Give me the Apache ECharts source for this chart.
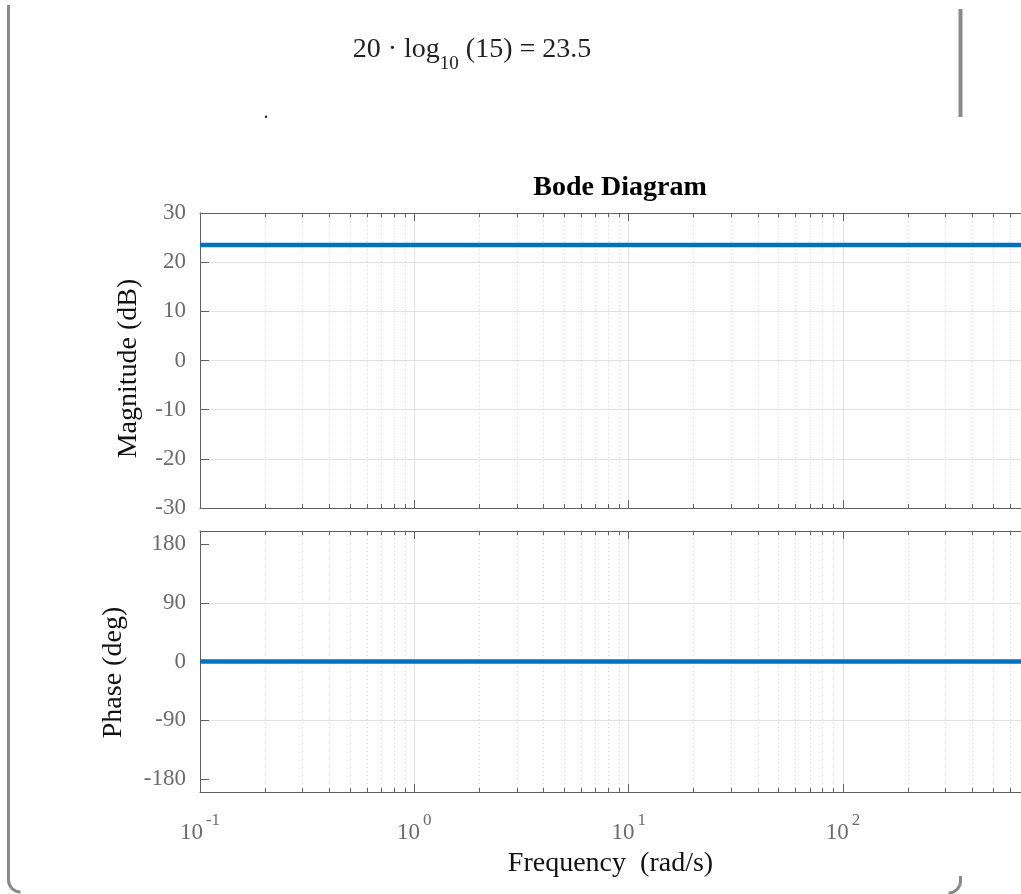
<!DOCTYPE html>
<html><head><meta charset="utf-8">
<script src="https://cdn.jsdelivr.net/npm/echarts@6/dist/echarts.min.js"></script>
<style>html,body{margin:0;padding:0;background:#fff;overflow:hidden}#c{width:1021px;height:894px}</style>
</head><body><div id="c"></div>
<script>
// ---- data ----
const freq = [0.1, 1, 10, 100, 677];
const magnitudeDb = [23.5, 23.5, 23.5, 23.5, 23.5];
const phaseDeg = [0, 0, 0, 0, 0];
const magTicks = [-30, -20, -10, 0, 10, 20, 30];
const phaseTicks = [-180, -90, 0, 90, 180];
const freqMin = 0.1, freqMax = 677;
const decades = [0.1, 1, 10, 100];
const titleText = 'Bode Diagram';
const xName = 'Frequency  (rad/s)';
const magName = 'Magnitude (dB)';
const phaseName = 'Phase (deg)';

// minor log positions (2..9 within each decade)
const minorFreqs = [];
decades.forEach(d => { for (let k = 2; k <= 9; k++) { const v = k * d; if (v < freqMax) minorFreqs.push(v); } });

const FONT = 'Liberation Serif';
const AXIS_C = '#606060', LABEL_C = '#6b6b6b', GRID_C = '#e0e0e0';

function minorRender(params, api) {
  const cs = params.coordSys;
  const x = Math.round(api.coord([api.value(0), api.value(1)])[0]) + 0.5;
  return { type: 'group', children: [
    { type: 'line', shape: { x1: x, y1: cs.y, x2: x, y2: cs.y + cs.height }, style: { stroke: '#d4d4d4', lineWidth: 1, lineDash: [1, 3] } },
    { type: 'line', shape: { x1: x, y1: cs.y, x2: x, y2: cs.y + 4 }, style: { stroke: AXIS_C, lineWidth: 1 } },
    { type: 'line', shape: { x1: x, y1: cs.y + cs.height - 4, x2: x, y2: cs.y + cs.height }, style: { stroke: AXIS_C, lineWidth: 1 } }
  ]};
}

function xAxisDef(gridIndex, position, labels) {
  return {
    type: 'log', logBase: 10, gridIndex, position, min: freqMin, max: freqMax, interval: 1,
    axisLine: { show: true, onZero: false, lineStyle: { color: AXIS_C, width: 1 } },
    axisTick: { show: true, inside: true, length: 8, lineStyle: { color: AXIS_C } },
    splitLine: { show: position === 'bottom', showMinLine: false, showMaxLine: false, lineStyle: { color: GRID_C, width: 1 } },
    axisLabel: labels ? {
      show: true, margin: 20, showMinLabel: true, showMaxLabel: false,
      formatter: v => '{b|10}{s|' + Math.round(Math.log10(v)) + '}',
      rich: {
        b: { fontFamily: FONT, fontSize: 23, color: LABEL_C, verticalAlign: 'bottom', lineHeight: 32 },
        s: { fontFamily: FONT, fontSize: 17, color: LABEL_C, verticalAlign: 'top', lineHeight: 32, padding: [0, 0, 0, 3] }
      }
    } : { show: false },
    name: labels ? xName : '', nameLocation: 'middle', nameGap: 58,
    nameTextStyle: { fontFamily: FONT, fontSize: 28, color: '#111' }
  };
}

function yAxisDef(gridIndex, min, max, ticks, name, gap, shift) {
  return {
    type: 'value', gridIndex, min, max, position: 'left',
    axisLine: { show: true, onZero: false, lineStyle: { color: AXIS_C, width: 1 } },
    axisTick: { show: true, inside: true, length: 9, customValues: ticks, lineStyle: { color: AXIS_C } },
    axisLabel: { show: true, customValues: ticks, margin: 14, fontFamily: FONT, fontSize: 23, color: LABEL_C },
    splitLine: { show: true, showMinLine: false, showMaxLine: false, lineStyle: { color: GRID_C, width: 1 } },
    name, nameLocation: 'middle', nameGap: gap, nameRotate: 90,
    nameTextStyle: { fontFamily: FONT, fontSize: 28, color: '#111', padding: [0, shift, 0, 0] }
  };
}

const chart = echarts.init(document.getElementById('c'), null, { renderer: 'canvas' });
chart.setOption({
  animation: false,
  backgroundColor: '#fff',
  title: {
    text: titleText, left: 615, top: 169, textAlign: 'center',
    textStyle: { fontFamily: FONT, fontSize: 28, fontWeight: 'bold', color: '#000' }
  },
  grid: [
    { left: 200, top: 213, right: 0, height: 295 },
    { left: 200, top: 531, right: 0, height: 261 }
  ],
  xAxis: [
    xAxisDef(0, 'bottom', false),
    xAxisDef(0, 'top', false),
    xAxisDef(1, 'bottom', true),
    xAxisDef(1, 'top', false)
  ],
  yAxis: [
    yAxisDef(0, -30, 30, magTicks, magName, 57, 16),
    yAxisDef(1, -200, 200, phaseTicks, phaseName, 72, 22)
  ],
  series: [
    { type: 'custom', xAxisIndex: 0, yAxisIndex: 0, data: minorFreqs.map(f => [f, 0]), renderItem: minorRender, silent: true, z: 1 },
    { type: 'custom', xAxisIndex: 2, yAxisIndex: 1, data: minorFreqs.map(f => [f, 0]), renderItem: minorRender, silent: true, z: 1 },
    { type: 'line', xAxisIndex: 0, yAxisIndex: 0, data: freq.map((f, i) => [f, magnitudeDb[i]]), showSymbol: false, lineStyle: { color: '#0072BD', width: 4.5 }, silent: true, z: 5 },
    { type: 'line', xAxisIndex: 2, yAxisIndex: 1, data: freq.map((f, i) => [f, phaseDeg[i]]), showSymbol: false, lineStyle: { color: '#0072BD', width: 4.5 }, silent: true, z: 5 }
  ],
  graphic: [
    { type: 'text', x: 472, y: 55, style: {
        text: '{n|20 · log}{sub|10}{n| (15) = 23.5}',
        align: 'center', verticalAlign: 'middle',
        rich: {
          n: { fontFamily: FONT, fontSize: 28, fill: '#222', verticalAlign: 'top', lineHeight: 38 },
          sub: { fontFamily: FONT, fontSize: 19, fill: '#222', verticalAlign: 'bottom', lineHeight: 38 }
        } } },
    { type: 'text', x: 264, y: 103, style: { text: '.', fontFamily: FONT, fontSize: 20, fontStyle: 'italic', fill: '#222' } },
    { type: 'line', shape: { x1: 8.5, y1: 5, x2: 8.5, y2: 880 }, style: { stroke: '#8a8a8a', lineWidth: 3 } },
    { type: 'arc', shape: { cx: 20.5, cy: 880, r: 12, startAngle: Math.PI / 2, endAngle: Math.PI }, style: { stroke: '#8a8a8a', lineWidth: 3, fill: null } },
    { type: 'line', shape: { x1: 960.5, y1: 9, x2: 960.5, y2: 117 }, style: { stroke: '#8a8a8a', lineWidth: 4 } },
    { type: 'line', shape: { x1: 960.5, y1: 876, x2: 960.5, y2: 881 }, style: { stroke: '#8a8a8a', lineWidth: 3 } },
    { type: 'arc', shape: { cx: 948.5, cy: 881, r: 12, startAngle: 0, endAngle: Math.PI / 2 }, style: { stroke: '#8a8a8a', lineWidth: 3, fill: null } }
  ]
});
</script></body></html>
